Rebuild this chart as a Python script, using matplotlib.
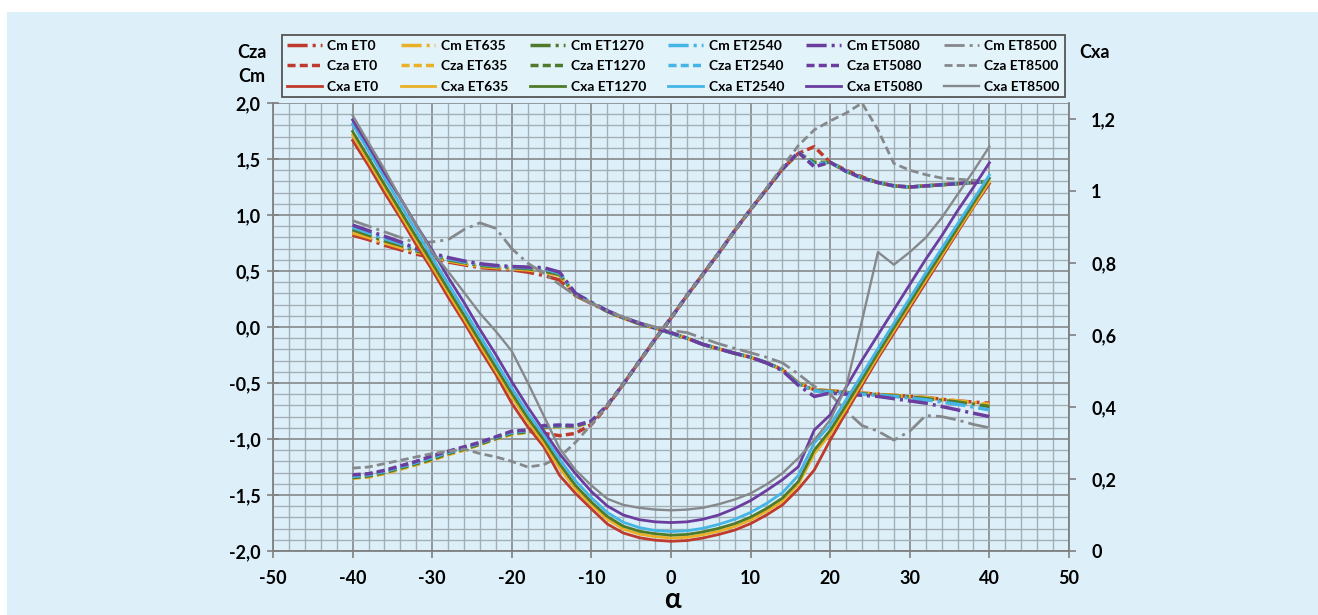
import matplotlib
matplotlib.use("Agg")
import matplotlib.pyplot as plt
from matplotlib.patches import Rectangle
from matplotlib.ticker import MultipleLocator, FuncFormatter

plt.rcParams['font.family'] = ['Lato', 'DejaVu Sans']
plt.rcParams['font.weight'] = 'bold'
plt.rcParams['lines.scale_dashes'] = False

# angle of attack, deg
alpha = [-40, -38, -36, -34, -32, -30, -28, -26, -24, -22,
         -20, -18, -16, -14, -12, -10, -8, -6, -4, -2,
         0, 2, 4, 6, 8, 10, 12, 14, 16, 18,
         20, 22, 24, 26, 28, 30, 32, 34, 36, 38, 40]

ets = ["ET0", "ET635", "ET1270", "ET2540", "ET5080", "ET8500"]

# Cm (left axis)
cm_et0 = [0.82, 0.78, 0.73, 0.69, 0.65, 0.62, 0.58, 0.555, 0.53, 0.52,
          0.51, 0.49, 0.46, 0.42, 0.28, 0.21, 0.14, 0.08, 0.03, -0.01,
          -0.055, -0.10, -0.155, -0.195, -0.235, -0.27, -0.32, -0.38, -0.50, -0.56,
          -0.57, -0.58, -0.59, -0.60, -0.61, -0.62, -0.63, -0.645, -0.66, -0.67, -0.68]
cm_et635 = [0.84, 0.80, 0.75, 0.71, 0.67, 0.63, 0.59, 0.565, 0.54, 0.53,
            0.52, 0.51, 0.49, 0.46, 0.29, 0.215, 0.14, 0.08, 0.03, -0.01,
            -0.055, -0.10, -0.155, -0.195, -0.235, -0.27, -0.32, -0.38, -0.50, -0.56,
            -0.57, -0.58, -0.59, -0.60, -0.61, -0.62, -0.63, -0.645, -0.66, -0.675, -0.69]
cm_et1270 = [0.87, 0.82, 0.77, 0.73, 0.68, 0.645, 0.60, 0.575, 0.55, 0.54,
             0.53, 0.52, 0.50, 0.47, 0.29, 0.215, 0.14, 0.08, 0.03, -0.01,
             -0.055, -0.10, -0.155, -0.195, -0.235, -0.27, -0.32, -0.38, -0.505, -0.565,
             -0.575, -0.585, -0.595, -0.605, -0.615, -0.625, -0.64, -0.655, -0.67, -0.69, -0.71]
cm_et2540 = [0.89, 0.84, 0.79, 0.745, 0.69, 0.65, 0.61, 0.58, 0.56, 0.545,
             0.535, 0.53, 0.52, 0.48, 0.30, 0.22, 0.145, 0.085, 0.035, -0.01,
             -0.055, -0.10, -0.155, -0.195, -0.235, -0.27, -0.32, -0.385, -0.51, -0.57,
             -0.58, -0.59, -0.60, -0.61, -0.62, -0.635, -0.65, -0.67, -0.69, -0.715, -0.74]
cm_et5080 = [0.91, 0.86, 0.81, 0.76, 0.70, 0.66, 0.62, 0.59, 0.565, 0.55,
             0.54, 0.535, 0.53, 0.49, 0.30, 0.22, 0.145, 0.085, 0.035, -0.01,
             -0.05, -0.10, -0.155, -0.195, -0.235, -0.27, -0.32, -0.39, -0.52, -0.62,
             -0.59, -0.60, -0.61, -0.62, -0.64, -0.66, -0.68, -0.71, -0.74, -0.77, -0.80]
cm_et8500 = [0.95, 0.90, 0.85, 0.80, 0.75, 0.76, 0.78, 0.87, 0.93, 0.88,
             0.70, 0.57, 0.48, 0.38, 0.28, 0.21, 0.145, 0.09, 0.04, 0.0,
             -0.03, -0.05, -0.10, -0.15, -0.19, -0.23, -0.27, -0.32, -0.42, -0.53,
             -0.60, -0.75, -0.88, -0.93, -1.01, -0.93, -0.79, -0.80, -0.83, -0.87, -0.90]

# Cza (left axis)
cza_et0 = [-1.33, -1.32, -1.29, -1.25, -1.21, -1.17, -1.12, -1.08, -1.04, -0.99,
           -0.94, -0.93, -0.95, -0.97, -0.95, -0.87, -0.71, -0.51, -0.31, -0.11,
           0.08, 0.28, 0.47, 0.66, 0.86, 1.05, 1.23, 1.41, 1.55, 1.61,
           1.47, 1.40, 1.34, 1.29, 1.26, 1.25, 1.26, 1.27, 1.28, 1.29, 1.30]
cza_et635 = [-1.35, -1.34, -1.31, -1.27, -1.23, -1.19, -1.14, -1.10, -1.05, -1.00,
             -0.96, -0.94, -0.90, -0.89, -0.89, -0.85, -0.70, -0.51, -0.31, -0.11,
             0.08, 0.28, 0.47, 0.66, 0.86, 1.05, 1.23, 1.41, 1.55, 1.47,
             1.47, 1.39, 1.33, 1.29, 1.26, 1.25, 1.26, 1.27, 1.28, 1.29, 1.30]
cza_et1270 = [-1.345, -1.33, -1.30, -1.26, -1.22, -1.18, -1.13, -1.09, -1.045, -0.995,
              -0.95, -0.935, -0.895, -0.885, -0.885, -0.845, -0.70, -0.51, -0.31, -0.11,
              0.08, 0.28, 0.47, 0.66, 0.86, 1.05, 1.23, 1.41, 1.555, 1.47,
              1.47, 1.39, 1.33, 1.29, 1.26, 1.25, 1.26, 1.27, 1.28, 1.29, 1.30]
cza_et2540 = [-1.335, -1.32, -1.29, -1.25, -1.21, -1.165, -1.12, -1.08, -1.035, -0.985,
              -0.94, -0.925, -0.885, -0.88, -0.88, -0.84, -0.70, -0.51, -0.31, -0.11,
              0.08, 0.28, 0.47, 0.66, 0.86, 1.05, 1.23, 1.41, 1.56, 1.45,
              1.47, 1.39, 1.33, 1.29, 1.26, 1.25, 1.26, 1.27, 1.28, 1.29, 1.30]
cza_et5080 = [-1.32, -1.31, -1.28, -1.24, -1.20, -1.15, -1.11, -1.07, -1.03, -0.98,
              -0.93, -0.92, -0.88, -0.875, -0.88, -0.84, -0.70, -0.51, -0.31, -0.11,
              0.08, 0.28, 0.47, 0.66, 0.86, 1.05, 1.23, 1.41, 1.56, 1.43,
              1.47, 1.39, 1.33, 1.29, 1.26, 1.25, 1.26, 1.27, 1.28, 1.29, 1.30]
cza_et8500 = [-1.26, -1.25, -1.22, -1.19, -1.16, -1.13, -1.11, -1.09, -1.13, -1.16,
              -1.20, -1.25, -1.23, -1.16, -1.03, -0.87, -0.70, -0.51, -0.31, -0.11,
              0.08, 0.28, 0.47, 0.66, 0.86, 1.05, 1.24, 1.43, 1.62, 1.76,
              1.84, 1.91, 2.00, 1.76, 1.46, 1.40, 1.36, 1.33, 1.32, 1.31, 1.30]

# Cxa (right axis)
cxa_et0 = [1.14, 1.07, 0.995, 0.925, 0.85, 0.78, 0.705, 0.635, 0.56, 0.49,
           0.41, 0.345, 0.29, 0.21, 0.16, 0.117, 0.075, 0.05, 0.037, 0.03,
           0.027, 0.029, 0.036, 0.046, 0.058, 0.076, 0.10, 0.128, 0.172, 0.225,
           0.308, 0.385, 0.46, 0.535, 0.605, 0.675, 0.745, 0.815, 0.885, 0.955, 1.02]
cxa_et635 = [1.155, 1.082, 1.008, 0.935, 0.862, 0.79, 0.717, 0.645, 0.572, 0.50,
             0.428, 0.36, 0.30, 0.23, 0.172, 0.128, 0.088, 0.061, 0.047, 0.04,
             0.036, 0.038, 0.045, 0.055, 0.068, 0.086, 0.11, 0.138, 0.185, 0.27,
             0.325, 0.395, 0.468, 0.542, 0.612, 0.682, 0.752, 0.82, 0.89, 0.958, 1.026]
cxa_et1270 = [1.165, 1.092, 1.018, 0.945, 0.872, 0.80, 0.727, 0.655, 0.582, 0.51,
              0.438, 0.37, 0.31, 0.242, 0.182, 0.136, 0.096, 0.069, 0.055, 0.048,
              0.044, 0.046, 0.053, 0.063, 0.076, 0.094, 0.118, 0.147, 0.193, 0.28,
              0.335, 0.405, 0.477, 0.55, 0.62, 0.69, 0.76, 0.828, 0.897, 0.966, 1.035]
cxa_et2540 = [1.185, 1.11, 1.036, 0.962, 0.888, 0.815, 0.742, 0.67, 0.597, 0.525,
              0.452, 0.383, 0.322, 0.255, 0.195, 0.148, 0.107, 0.08, 0.065, 0.057,
              0.054, 0.056, 0.063, 0.074, 0.088, 0.107, 0.132, 0.162, 0.21, 0.30,
              0.35, 0.42, 0.49, 0.562, 0.632, 0.702, 0.772, 0.84, 0.908, 0.976, 1.044]
cxa_et5080 = [1.197, 1.125, 1.05, 0.98, 0.905, 0.835, 0.76, 0.69, 0.615, 0.545,
              0.47, 0.40, 0.335, 0.27, 0.215, 0.165, 0.125, 0.10, 0.087, 0.081,
              0.079, 0.081, 0.088, 0.10, 0.118, 0.14, 0.168, 0.198, 0.234, 0.336,
              0.378, 0.455, 0.53, 0.60, 0.67, 0.74, 0.81, 0.875, 0.945, 1.01, 1.078]
cxa_et8500 = [1.21, 1.134, 1.06, 0.98, 0.905, 0.83, 0.776, 0.718, 0.66, 0.61,
              0.555, 0.468, 0.376, 0.285, 0.225, 0.182, 0.145, 0.128, 0.12, 0.115,
              0.113, 0.115, 0.12, 0.13, 0.143, 0.16, 0.185, 0.216, 0.258, 0.308,
              0.364, 0.456, 0.64, 0.83, 0.795, 0.83, 0.87, 0.925, 0.99, 1.055, 1.123]

cm_all = [cm_et0, cm_et635, cm_et1270, cm_et2540, cm_et5080, cm_et8500]
cza_all = [cza_et0, cza_et635, cza_et1270, cza_et2540, cza_et5080, cza_et8500]
cxa_all = [cxa_et0, cxa_et635, cxa_et1270, cxa_et2540, cxa_et5080, cxa_et8500]

colors = ["#BE3A2C", "#EAB026", "#4E7A2A", "#45B5E6", "#6A3D9E", "#86898C"]
bg = "#DDF0F9"
cm_dash = (0, (14.5, 3.6, 2.2, 3.6))
cza_dash = (0, (5.8, 3.0))

fig = plt.figure(figsize=(13.18, 6.15), dpi=100)
fig.patch.set_facecolor("white")
fig.patches.append(Rectangle((7 / 1318, 0), 1, 603 / 615, transform=fig.transFigure,
                             facecolor=bg, edgecolor="none", zorder=-10))

ax = fig.add_axes([273 / 1318, 1 - 551 / 615, 796 / 1318, 448 / 615])
ax.set_facecolor(bg)
ax2 = ax.twinx()

handles = []
labels = []
for i, et in enumerate(ets):
    c = colors[i]
    lw_d = 2.0 if i == 5 else 2.5
    lw_s = 1.7 if i == 5 else 2.0
    l1, = ax.plot(alpha, cm_all[i], color=c, lw=lw_d, linestyle=cm_dash)
    l2, = ax.plot(alpha, cza_all[i], color=c, lw=lw_d, linestyle=cza_dash)
    l3, = ax2.plot(alpha, cxa_all[i], color=c, lw=lw_s)
    handles += [l1, l2, l3]
    labels += ["Cm " + et, "Cza " + et, "Cxa " + et]

ax.set_xlim(-50, 50)
ax.set_ylim(-2, 2)
ax2.set_ylim(0, 1.244)

ax.xaxis.set_major_locator(MultipleLocator(10))
ax.xaxis.set_minor_locator(MultipleLocator(2))
ax.yaxis.set_major_locator(MultipleLocator(0.5))
ax.yaxis.set_minor_locator(MultipleLocator(0.1))
ax2.yaxis.set_major_locator(MultipleLocator(0.2))

ax.grid(which="major", color="#8C9094", lw=1.3)
ax.grid(which="minor", color="#A3AEB6", lw=1.0)
ax.set_axisbelow(True)

ax.yaxis.set_major_formatter(FuncFormatter(lambda v, p: ("%.1f" % v).replace(".", ",")))
ax.xaxis.set_major_formatter(FuncFormatter(lambda v, p: "%d" % v))
ax2.yaxis.set_major_formatter(FuncFormatter(lambda v, p: ("%g" % round(v, 2)).replace(".", ",")))

ax.tick_params(which="minor", length=0)
ax.tick_params(axis="y", which="major", direction="inout", length=8, width=1.2,
               color="#808080", labelsize=13, pad=5)
ax.tick_params(axis="x", which="major", direction="out", length=5, width=1.2,
               color="#808080", labelsize=13, pad=9)
ax2.tick_params(axis="y", direction="out", length=5, width=1.2, color="#808080",
                labelsize=13, pad=11)

for s in ["top", "right"]:
    ax.spines[s].set_visible(False)
for s in ["left", "bottom"]:
    ax.spines[s].set_color("#808080")
    ax.spines[s].set_linewidth(1.3)
for s in ["top", "left", "bottom"]:
    ax2.spines[s].set_visible(False)
ax2.spines["right"].set_color("#808080")
ax2.spines["right"].set_linewidth(1.3)

fig.text(252 / 1318, 1 - 53 / 615, "Cza", ha="center", va="center", fontsize=13, fontweight="bold")
fig.text(252 / 1318, 1 - 77 / 615, "Cm", ha="center", va="center", fontsize=13, fontweight="bold")
fig.text(1094 / 1318, 1 - 53 / 615, "Cxa", ha="center", va="center", fontsize=13, fontweight="bold")
fig.text(672 / 1318, 1 - 600 / 615, "α", ha="center", va="center", fontsize=20, fontweight="bold")

leg = fig.legend(handles, labels, ncol=6, loc="upper left",
                 bbox_to_anchor=(282 / 1318, 1 - 35 / 615), borderaxespad=0,
                 fontsize=10, handlelength=2.5, handletextpad=0.4,
                 columnspacing=1.6, labelspacing=0.6, borderpad=0.35,
                 fancybox=False, frameon=True)
leg.get_frame().set_edgecolor("#555555")
leg.get_frame().set_linewidth(1.3)
leg.get_frame().set_facecolor("#E3F3FA")
leg.get_frame().set_alpha(1)
for t in leg.get_texts():
    t.set_fontweight("bold")

fig.savefig("out.png", dpi=100)
